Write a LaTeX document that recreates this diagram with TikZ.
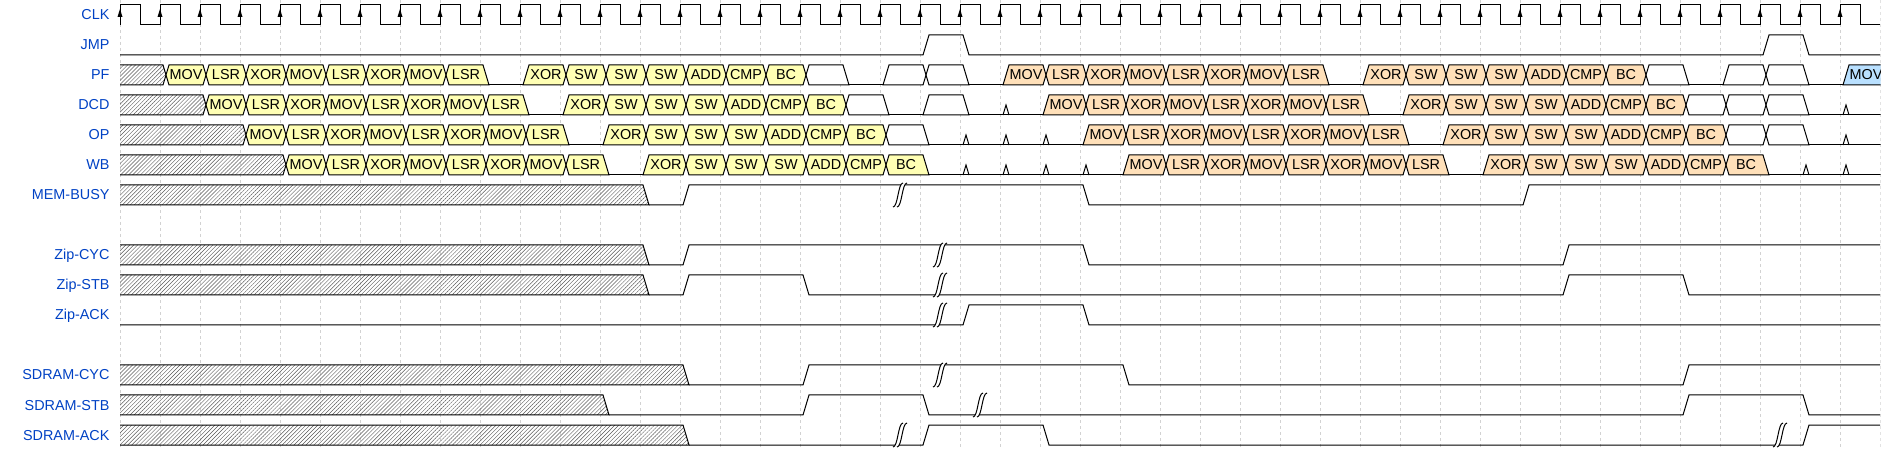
\documentclass[tikz,border=0pt]{standalone}
\usepackage{fontspec}
\setmainfont{Liberation Sans}
\usepackage{tikz}
\usetikzlibrary{patterns.meta}
\definecolor{wblue}{RGB}{0,65,196}
\definecolor{wyel}{RGB}{255,255,180}
\definecolor{worg}{RGB}{255,224,185}
\definecolor{wsky}{RGB}{185,224,255}
\newcommand\wfont{\fontsize{14.4bp}{17bp}\selectfont}
\tikzset{
	ye/.style={draw,fill=wyel},
	og/.style={draw,fill=worg},
	bl/.style={draw,fill=wsky},
	wh/.style={draw,fill=white},
	hx/.style={pattern={Lines[angle=45,distance=2.8bp,line width=0.45bp]},pattern color=black!65},
	gridline/.style={gray!35,line width=0.6bp,dash pattern=on 3bp off 3bp},
	lbl/.style={text=wblue,anchor=base east,inner sep=0pt,font=\wfont},
	txt/.style={anchor=base,inner sep=0pt,font=\wfont},
}
% row r: top, middle, bottom
\newcommand\setrow[1]{\pgfmathsetmacro\yt{5+30*#1}\pgfmathsetmacro\ym{15+30*#1}\pgfmathsetmacro\yb{25+30*#1}}
% one cycle from \xa to \xb; left x=cross r=rise, right x=cross f=fall
\newcommand\brick[3]{%
	\if#1x\def\lft{(\xa+6,\ym) -- (\xa+9,\yt)}\else\def\lft{(\xa+3,\yb) -- (\xa+9,\yt)}\fi
	\if#2x\def\rgt{-- (\xb+6,\ym) -- (\xb+3,\yb)}\else\def\rgt{-- (\xb+9,\yb)}\fi
	\draw[#3] \lft -- (\xb+3,\yt) \rgt -- (\xa+9,\yb) -- cycle;}
\newcommand\ops[6]{%
	\setrow{#1}
	\foreach \lab [count=\i from 0] in {#6} {\global\let\nlast\i}
	\foreach \lab [count=\i from 0] in {#6} {
		\pgfmathsetmacro\xa{120+40*(#2+\i)}
		\pgfmathsetmacro\xb{\xa+40}
		\pgfmathtruncatemacro\tc{#2+\i}
		\ifnum\i=0 \def\L{#3}\else\def\L{x}\fi
		\ifnum\i=\nlast\relax\def\R{#4}\else\def\R{x}\fi
		\brick{\L}{\R}{#5}
		\node[txt] (c#1-\tc) at (\xa+26,\ym+5) {\lab};
	}}
\newcommand\hatchx[3]{%
	\setrow{#1}\pgfmathsetmacro\xb{120+40*#2}
	\if#3x\def\rgt{-- (\xb+6,\ym) -- (\xb+3,\yb)}\else\def\rgt{-- (\xb+9,\yb)}\fi
	\path[hx] (120,\yt) -- (\xb+3,\yt) \rgt -- (120,\yb) -- cycle;
	\draw (120,\yt) -- (\xb+3,\yt) \rgt -- (120,\yb);}
\newcommand\lowl[2]{\draw ({129+40*#1},\yb) -- ({123+40*#2},\yb);}
\newcommand\spike[1]{\draw ({123+40*#1},\yb) -- ({126+40*#1},\ym) -- ({129+40*#1},\yb);}
\newcommand\wgap[2]{%
	\setrow{#2}
	\fill[white] (#1+7,\yt-2) -- (#1+3,\yt-2) .. controls (#1-2,\yt-2) and (#1-2,\yb+2) .. (#1-7,\yb+2) -- (#1-3,\yb+2) .. controls (#1+2,\yb+2) and (#1+2,\yt-2) .. (#1+7,\yt-2) -- cycle;
	\draw (#1-7,\yb+2) .. controls (#1-2,\yb+2) and (#1-2,\yt-2) .. (#1+3,\yt-2);
	\draw (#1-3,\yb+2) .. controls (#1+2,\yb+2) and (#1+2,\yt-2) .. (#1+7,\yt-2);}

\begin{document}
\begin{tikzpicture}[x=1bp,y=-1bp,line width=1bp]
	\useasboundingbox (0,0) rectangle (1900,450);
	\clip (0,0) rectangle (1880.5,450);

	\foreach \t in {0,...,44}
		\draw [gridline] ({120+40*\t},0) -- ({120+40*\t},450);

	\foreach \r/\s in {0/CLK,1/JMP,2/PF,3/DCD,4/OP,5/WB,6/MEM-BUSY,8/Zip-CYC,9/Zip-STB,10/Zip-ACK,12/SDRAM-CYC,13/SDRAM-STB,14/SDRAM-ACK}
		\node [lbl] (n\r) at (110,{20+30*\r}) {\s};

	% clock
	\draw (120,25) \foreach \t in {0,...,43} {-- ({120+40*\t},5) -- ({140+40*\t},5) -- ({140+40*\t},25) -- ({160+40*\t},25)};
	\foreach \t in {0,...,43}
		\fill ({120+40*\t},9) -- ({117.5+40*\t},17) -- ({122.5+40*\t},17) -- cycle;

	\draw (120,55) -- (923,55) -- (929,35) -- (963,35) -- (969,55) -- (1763,55) -- (1769,35) -- (1803,35) -- (1809,55) -- (1880,55);

	% PF
	\hatchx{2}{1}{x}
	\ops{2}{1}{x}{f}{ye}{MOV,LSR,XOR,MOV,LSR,XOR,MOV,LSR}
	\lowl{9}{10}
	\ops{2}{10}{r}{x}{ye}{XOR,SW,SW,SW,ADD,CMP,BC}
	\ops{2}{17}{x}{f}{wh}{\null}
	\lowl{18}{19}
	\ops{2}{19}{r}{f}{wh}{\null,\null}
	\lowl{21}{22}
	\ops{2}{22}{r}{f}{og}{MOV,LSR,XOR,MOV,LSR,XOR,MOV,LSR}
	\lowl{30}{31}
	\ops{2}{31}{r}{x}{og}{XOR,SW,SW,SW,ADD,CMP,BC}
	\ops{2}{38}{x}{f}{wh}{\null}
	\lowl{39}{40}
	\ops{2}{40}{r}{f}{wh}{\null,\null}
	\lowl{42}{43}
	\ops{2}{43}{r}{x}{bl}{MOV}

	% DCD
	\hatchx{3}{2}{x}
	\ops{3}{2}{x}{f}{ye}{MOV,LSR,XOR,MOV,LSR,XOR,MOV,LSR}
	\lowl{10}{11}
	\ops{3}{11}{r}{x}{ye}{XOR,SW,SW,SW,ADD,CMP,BC}
	\ops{3}{18}{x}{f}{wh}{\null}
	\lowl{19}{20}
	\ops{3}{20}{r}{f}{wh}{\null}
	\lowl{21}{23} \spike{22}
	\ops{3}{23}{r}{f}{og}{MOV,LSR,XOR,MOV,LSR,XOR,MOV,LSR}
	\lowl{31}{32}
	\ops{3}{32}{r}{x}{og}{XOR,SW,SW,SW,ADD,CMP,BC}
	\ops{3}{39}{x}{f}{wh}{\null,\null,\null}
	\lowl{42}{44} \spike{43}

	% OP
	\hatchx{4}{3}{x}
	\ops{4}{3}{x}{f}{ye}{MOV,LSR,XOR,MOV,LSR,XOR,MOV,LSR}
	\lowl{11}{12}
	\ops{4}{12}{r}{x}{ye}{XOR,SW,SW,SW,ADD,CMP,BC}
	\ops{4}{19}{x}{f}{wh}{\null}
	\lowl{20}{24} \spike{21} \spike{22} \spike{23}
	\ops{4}{24}{r}{f}{og}{MOV,LSR,XOR,MOV,LSR,XOR,MOV,LSR}
	\lowl{32}{33}
	\ops{4}{33}{r}{x}{og}{XOR,SW,SW,SW,ADD,CMP,BC}
	\ops{4}{40}{x}{f}{wh}{\null,\null}
	\lowl{42}{44} \spike{43}

	% WB
	\hatchx{5}{4}{x}
	\ops{5}{4}{x}{f}{ye}{MOV,LSR,XOR,MOV,LSR,XOR,MOV,LSR}
	\lowl{12}{13}
	\ops{5}{13}{r}{f}{ye}{XOR,SW,SW,SW,ADD,CMP,BC}
	\lowl{20}{25} \spike{21} \spike{22} \spike{23} \spike{24}
	\ops{5}{25}{r}{f}{og}{MOV,LSR,XOR,MOV,LSR,XOR,MOV,LSR}
	\lowl{33}{34}
	\ops{5}{34}{r}{f}{og}{XOR,SW,SW,SW,ADD,CMP,BC}
	\lowl{41}{44} \spike{42} \spike{43}

	% bus lines
	\hatchx{6}{13}{f}
	\draw (649,205) -- (683,205) -- (689,185) -- (1083,185) -- (1089,205) -- (1523,205) -- (1529,185) -- (1880,185);
	\wgap{900}{6}

	\hatchx{8}{13}{f}
	\draw (649,265) -- (683,265) -- (689,245) -- (1083,245) -- (1089,265) -- (1563,265) -- (1569,245) -- (1880,245);
	\wgap{940}{8}

	\hatchx{9}{13}{f}
	\draw (649,295) -- (683,295) -- (689,275) -- (803,275) -- (809,295) -- (1563,295) -- (1569,275) -- (1683,275) -- (1689,295) -- (1880,295);
	\wgap{940}{9}

	\draw (120,325) -- (963,325) -- (969,305) -- (1083,305) -- (1089,325) -- (1880,325);
	\wgap{940}{10}

	\hatchx{12}{14}{f}
	\draw (689,385) -- (803,385) -- (809,365) -- (1123,365) -- (1129,385) -- (1683,385) -- (1689,365) -- (1880,365);
	\wgap{940}{12}

	\hatchx{13}{12}{f}
	\draw (609,415) -- (803,415) -- (809,395) -- (923,395) -- (929,415) -- (1683,415) -- (1689,395) -- (1803,395) -- (1809,415) -- (1880,415);
	\wgap{980}{13}

	\hatchx{14}{14}{f}
	\draw (689,445) -- (923,445) -- (929,425) -- (1043,425) -- (1049,445) -- (1803,445) -- (1809,425) -- (1880,425);
	\wgap{900}{14}
	\wgap{1780}{14}
\end{tikzpicture}
\end{document}
